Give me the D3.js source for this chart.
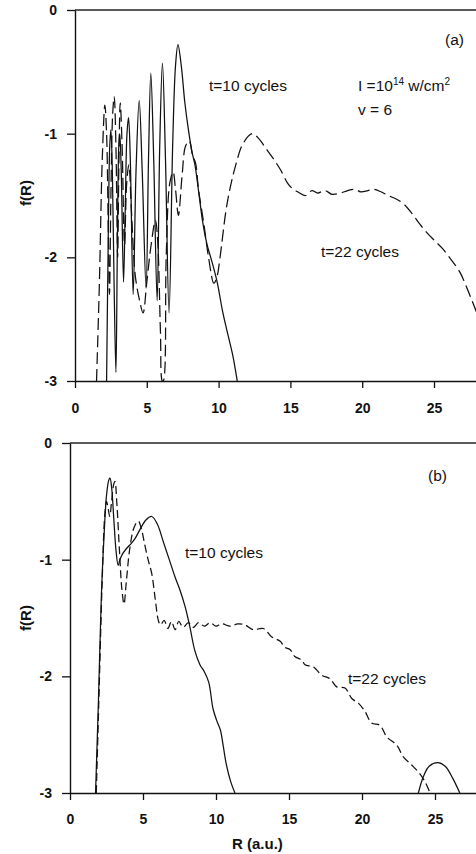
<!DOCTYPE html>
<html><head><meta charset="utf-8">
<script src="https://cdn.jsdelivr.net/npm/d3@7"></script>
<style>
html,body{margin:0;padding:0;background:#fff;}
svg{display:block;font-family:"Liberation Sans",Arial,sans-serif;}
</style></head>
<body>
<svg id="chart" width="476" height="854"></svg>
<script>
// ---- data ----
const xTicks = [0, 5, 10, 15, 20, 25];
const yTicks = [0, -1, -2, -3];

// panel (a): t=10 cycles (solid)
const aSolid = [
 [2.2,-3.0],[2.32,-1.8],[2.42,-1.1],[2.5,-0.97],[2.6,-1.3],[2.72,-2.2],[2.85,-2.93],[2.95,-1.9],
 [3.05,-1.1],[3.12,-1.0],[3.22,-1.3],[3.38,-2.2],[3.5,-1.6],[3.62,-1.0],[3.73,-0.87],[3.85,-1.2],
 [4.05,-2.3],[4.25,-1.3],[4.47,-0.73],[4.68,-1.3],[4.95,-2.25],[5.12,-1.2],[5.28,-0.51],[5.48,-1.2],
 [5.72,-2.35],[5.9,-1.1],[6.09,-0.43],[6.3,-1.2],[6.55,-2.45],[6.8,-1.1],[7.0,-0.45],[7.17,-0.28],
 [7.4,-0.45],[7.65,-0.75],[7.9,-0.97],[8.15,-1.15],[8.35,-1.25],[8.6,-1.46],[8.9,-1.72],[9.2,-1.9],
 [9.5,-2.02],[9.9,-2.2],[10.3,-2.45],[10.7,-2.65],[11.0,-2.8],[11.3,-3.0]
];
// panel (a): t=22 cycles (dashed)
const aDashed = [
 [1.5,-3.0],[1.7,-2.2],[1.9,-1.2],[2.08,-0.77],[2.2,-1.0],[2.32,-1.8],[2.4,-2.3],[2.5,-1.5],
 [2.62,-0.85],[2.73,-0.70],[2.85,-1.1],[2.97,-2.0],[3.05,-1.3],[3.15,-0.75],[3.28,-1.1],[3.45,-1.9],
 [3.6,-1.4],[3.75,-1.25],[3.92,-1.6],[4.2,-2.15],[4.5,-2.35],[4.74,-2.45],[5.0,-2.2],[5.3,-1.9],
 [5.6,-1.7],[5.75,-1.85],[5.95,-2.6],[6.08,-3.0],[6.15,-3.0],[6.35,-2.0],[6.6,-1.4],[6.83,-1.31],
 [7.0,-1.45],[7.2,-1.66],[7.45,-1.35],[7.7,-1.1],[7.95,-1.06],[8.2,-1.18],[8.4,-1.24],[8.6,-1.45],
 [8.96,-1.72],[9.3,-2.0],[9.67,-2.21],[9.9,-2.15],[10.1,-2.0],[10.6,-1.56],[11.2,-1.25],[11.7,-1.08],
 [12.34,-1.0],[12.8,-1.04],[13.3,-1.12],[13.8,-1.2],[14.3,-1.29],[14.8,-1.4],[15.1,-1.44],[15.5,-1.47],
 [16.05,-1.5],[16.5,-1.46],[16.9,-1.48],[17.4,-1.46],[17.9,-1.49],[18.5,-1.48],[19.0,-1.46],[19.5,-1.45],
 [19.9,-1.47],[20.4,-1.46],[20.8,-1.45],[21.3,-1.47],[21.8,-1.5],[22.4,-1.53],[22.9,-1.57],[23.5,-1.65],
 [24.0,-1.73],[24.5,-1.8],[25.0,-1.86],[25.6,-1.93],[26.2,-2.02],[26.8,-2.12],[27.3,-2.25],[27.95,-2.44]
];

// panel (b): t=10 cycles (solid), two pieces
const bSolid1 = [
 [1.75,-3.0],[1.95,-2.2],[2.15,-1.3],[2.35,-0.75],[2.5,-0.45],[2.65,-0.32],[2.74,-0.30],[2.85,-0.38],
 [3.0,-0.65],[3.15,-0.92],[3.3,-1.05],[3.42,-1.0],[3.6,-0.95],[3.9,-0.9],[4.2,-0.86],[4.45,-0.82],
 [4.8,-0.74],[5.2,-0.66],[5.6,-0.63],[6.0,-0.7],[6.4,-0.85],[6.8,-1.0],[7.2,-1.15],[7.53,-1.26],
 [7.88,-1.40],[8.2,-1.57],[8.55,-1.78],[8.9,-1.9],[9.2,-1.96],[9.5,-2.05],[9.8,-2.28],[10.05,-2.38],
 [10.3,-2.46],[10.5,-2.6],[10.7,-2.75],[11.0,-2.9],[11.3,-3.0]
];
const bSolid2 = [
 [23.86,-3.0],[24.2,-2.86],[24.6,-2.77],[25.2,-2.74],[25.7,-2.77],[26.2,-2.87],[26.7,-3.0]
];
// panel (b): t=22 cycles (dashed)
const bDashed = [
 [1.8,-3.0],[2.0,-2.1],[2.2,-1.2],[2.38,-0.62],[2.5,-0.5],[2.6,-0.55],[2.72,-0.63],[2.85,-0.5],
 [3.0,-0.35],[3.08,-0.33],[3.2,-0.5],[3.4,-0.95],[3.55,-1.25],[3.7,-1.38],[3.85,-1.2],[4.1,-0.9],
 [4.4,-0.72],[4.68,-0.67],[4.9,-0.74],[5.1,-0.86],[5.35,-1.0],[5.6,-1.12],[5.85,-1.35],[6.05,-1.52],
 [6.2,-1.56],[6.45,-1.52],[6.7,-1.59],[6.95,-1.53],[7.2,-1.6],[7.45,-1.53],[7.75,-1.58],[8.1,-1.54],
 [8.45,-1.58],[8.8,-1.54],[9.2,-1.57],[9.6,-1.54],[10.0,-1.57],[10.4,-1.55],[10.96,-1.57],[11.5,-1.55],
 [12.0,-1.56],[12.55,-1.60],[13.24,-1.59],[13.8,-1.66],[14.4,-1.70],[14.7,-1.75],[15.07,-1.77],[15.4,-1.83],
 [15.87,-1.86],[16.1,-1.90],[16.67,-1.92],[17.24,-1.99],[17.8,-2.02],[18.27,-2.09],[18.84,-2.10],[19.3,-2.19],
 [19.75,-2.23],[20.2,-2.30],[20.66,-2.40],[21.23,-2.42],[21.7,-2.52],[22.38,-2.59],[22.83,-2.69],[23.4,-2.76],
 [23.86,-2.82],[24.3,-2.90],[24.66,-3.0]
];

// ---- drawing ----
const svg = d3.select("#chart");
const W = 476;
const FONT_TICK = "14px", FONT_LAB = "15.5px";

const panels = [
  {id:"a", x0:75, xPer:14.36, yTop:10, yBot:381, xPad:15,
   lines:[{d:aSolid,dash:null},{d:aDashed,dash:"12,5"}],
   ylabY:193,
   texts:[
     {t:"(a)", x:445, y:45},
     {t:"t=10 cycles", x:209, y:91},
     {t:"t=22 cycles", x:321, y:257},
     {t:"v = 6", x:358, y:115}
   ], intensity:{x:358,y:91}},
  {id:"b", x0:70, xPer:14.6, yTop:443, yBot:793, xPad:14,
   lines:[{d:bSolid1,dash:null},{d:bSolid2,dash:null},{d:bDashed,dash:"8,4"}],
   ylabY:618,
   texts:[
     {t:"(b)", x:428, y:481},
     {t:"t=10 cycles", x:185, y:558},
     {t:"t=22 cycles", x:348, y:684}
   ]}
];

panels.forEach(p => {
  const x = d3.scaleLinear().domain([0, (W - p.x0) / p.xPer]).range([p.x0, W]);
  const y = d3.scaleLinear().domain([-3, 0]).range([p.yBot, p.yTop]);
  const g = svg.append("g");

  g.append("clipPath").attr("id", "clip" + p.id)
    .append("rect").attr("x", x(0)).attr("y", y(0)).attr("width", W - x(0)).attr("height", y(-3) - y(0));

  // top line at f=0
  g.append("line").attr("x1", x(0)).attr("x2", W).attr("y1", y(0)).attr("y2", y(0))
    .attr("stroke", "#222").attr("stroke-width", 1.4);

  const xa = d3.axisBottom(x).tickValues(xTicks).tickSize(7).tickSizeOuter(0).tickPadding(p.xPad)
    .tickFormat(d => String(d));
  const ya = d3.axisLeft(y).tickValues(yTicks).tickSize(8).tickSizeOuter(0).tickPadding(10)
    .tickFormat(d => String(d));

  const gx = g.append("g").attr("transform", `translate(0,${y(-3)})`).call(xa);
  const gy = g.append("g").attr("transform", `translate(${x(0)},0)`).call(ya);
  [gx, gy].forEach(a => {
    a.select(".domain").attr("stroke", "#111").attr("stroke-width", 1.4);
    a.selectAll(".tick line").attr("stroke", "#111").attr("stroke-width", 1.3);
    a.selectAll(".tick text").attr("fill", "#111").style("font-size", FONT_TICK)
      .style("font-weight", "bold")
      .style("font-family", '"Liberation Sans",Arial,sans-serif');
  });

  const line = d3.line().x(d => x(d[0])).y(d => y(d[1])).curve(d3.curveCatmullRom.alpha(0.5));
  const lg = g.append("g").attr("clip-path", `url(#clip${p.id})`);
  p.lines.forEach(L => {
    lg.append("path").datum(L.d).attr("d", line)
      .attr("fill", "none").attr("stroke", "#111").attr("stroke-width", 1.25)
      .attr("stroke-dasharray", L.dash);
  });

  g.append("text").attr("transform", `translate(31,${p.ylabY}) rotate(-90)`)
    .attr("text-anchor", "middle").style("font-size", "15px").style("font-weight", "bold")
    .attr("fill", "#111").text("f(R)");

  p.texts.forEach(t => {
    g.append("text").attr("x", t.x).attr("y", t.y).style("font-size", FONT_LAB)
      .attr("fill", "#111").text(t.t);
  });
  if (p.intensity) {
    const tx = g.append("text").attr("x", p.intensity.x).attr("y", p.intensity.y)
      .style("font-size", FONT_LAB).attr("fill", "#111");
    tx.append("tspan").text("I =10");
    tx.append("tspan").attr("dy", -6).style("font-size", "10px").text("14");
    tx.append("tspan").attr("dy", 6).text(" w/cm");
    tx.append("tspan").attr("dy", -6).style("font-size", "10px").text("2");
  }
});

svg.append("text").attr("x", 232).attr("y", 849).style("font-size", "15px").style("font-weight", "bold")
  .attr("fill", "#111").text("R (a.u.)");
</script>
</body></html>
